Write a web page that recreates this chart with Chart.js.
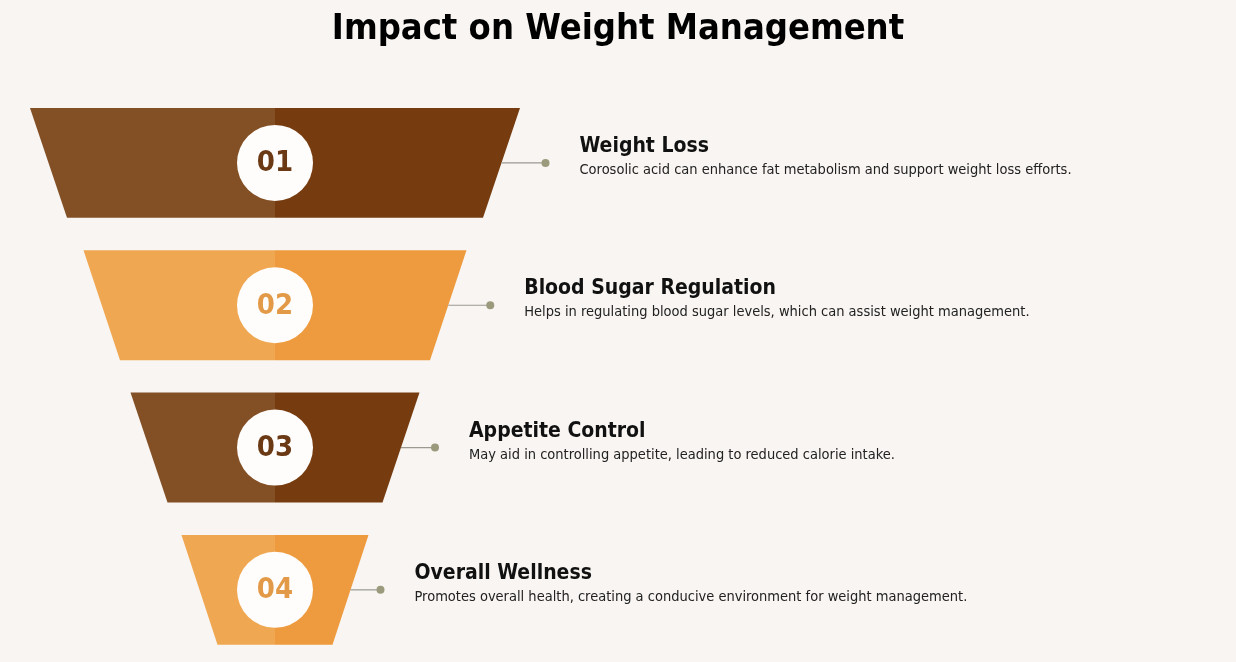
<!DOCTYPE html>
<html>
<head>
<meta charset="utf-8">
<script src="https://cdn.jsdelivr.net/npm/chart.js@4"></script>
<style>
  html, body { margin: 0; padding: 0; background: #f8f5f2; }
  #wrap { width: 1236px; height: 662px; }
</style>
</head>
<body>
<div id="wrap"><canvas id="funnel" width="1236" height="662"></canvas></div>
<script>
const chartTitle = "Impact on Weight Management";
const stepNumbers = ["01", "02", "03", "04"];
const stepTitles = ["Weight Loss", "Blood Sugar Regulation", "Appetite Control", "Overall Wellness"];
const stepTexts = [
  "Corosolic acid can enhance fat metabolism and support weight loss efforts.",
  "Helps in regulating blood sugar levels, which can assist weight management.",
  "May aid in controlling appetite, leading to reduced calorie intake.",
  "Promotes overall health, creating a conducive environment for weight management."
];
const topWidths = [490, 383, 289, 187];
const bottomWidths = [416, 310, 215, 115];

const narrow = "'Liberation Sans Narrow', 'DejaVu Sans Condensed', 'Roboto', sans-serif";
const palette = [
  { left: "#834f25", right: "#763c10", num: "#6b3a15" },
  { left: "#f0a752", right: "#ee9a3e", num: "#e39a48" }
];
const connectorLen = [44, 42, 34, 30];

// draws the funnel steps using the chart scales
const funnelPlugin = {
  id: "funnel",
  beforeDraw(chart) {
    const ctx = chart.ctx;
    ctx.save();
    ctx.fillStyle = "#f8f5f2";
    ctx.fillRect(0, 0, chart.width, chart.height);
    ctx.fillStyle = "#000";
    ctx.font = "bold 36px " + narrow;
    ctx.textAlign = "center";
    ctx.textBaseline = "middle";
    ctx.fillText(chartTitle, chart.width / 2, 30);
    ctx.restore();
  },
  afterDatasetsDraw(chart) {
    const ctx = chart.ctx;
    const xs = chart.scales.x, ys = chart.scales.y;
    ctx.save();
    stepNumbers.forEach((num, i) => {
      const c = palette[i % 2];
      const cx = xs.getPixelForValue(0);
      const top = ys.getPixelForValue(i - 0.386);
      const bot = ys.getPixelForValue(i + 0.386);
      const mid = ys.getPixelForValue(i);
      const tl = xs.getPixelForValue(-topWidths[i] / 2), tr = xs.getPixelForValue(topWidths[i] / 2);
      const bl = xs.getPixelForValue(-bottomWidths[i] / 2), br = xs.getPixelForValue(bottomWidths[i] / 2);
      ctx.fillStyle = c.left;
      ctx.beginPath();
      ctx.moveTo(tl, top); ctx.lineTo(cx, top); ctx.lineTo(cx, bot); ctx.lineTo(bl, bot);
      ctx.closePath(); ctx.fill();
      ctx.fillStyle = c.right;
      ctx.beginPath();
      ctx.moveTo(cx, top); ctx.lineTo(tr, top); ctx.lineTo(br, bot); ctx.lineTo(cx, bot);
      ctx.closePath(); ctx.fill();
      // number badge
      ctx.fillStyle = "#fffdfb";
      ctx.beginPath(); ctx.arc(cx, mid, 38, 0, Math.PI * 2); ctx.fill();
      ctx.fillStyle = c.num;
      ctx.font = "bold 29px " + narrow;
      ctx.textAlign = "center"; ctx.textBaseline = "middle";
      ctx.fillText(num, cx, mid + 1);
      // connector
      const edge = (tr + br) / 2;
      const dot = edge + connectorLen[i];
      ctx.strokeStyle = "#9a9a90"; ctx.lineWidth = 1.2;
      ctx.beginPath(); ctx.moveTo(edge, mid); ctx.lineTo(dot, mid); ctx.stroke();
      ctx.fillStyle = "#9c9a7c";
      ctx.beginPath(); ctx.arc(dot, mid, 4, 0, Math.PI * 2); ctx.fill();
      // texts
      const tx = dot + 34;
      ctx.textAlign = "left"; ctx.textBaseline = "alphabetic";
      ctx.fillStyle = "#111";
      ctx.font = "bold 21px " + narrow;
      ctx.fillText(stepTitles[i], tx, mid - 11);
      ctx.fillStyle = "#222";
      ctx.font = "14.5px " + narrow;
      ctx.fillText(stepTexts[i], tx, mid + 11);
    });
    ctx.restore();
  }
};

new Chart(document.getElementById("funnel").getContext("2d"), {
  type: "scatter",
  data: { datasets: [{ data: [], showLine: false }] },
  options: {
    responsive: false,
    animation: false,
    layout: { padding: 0 },
    plugins: { legend: { display: false }, tooltip: { enabled: false } },
    scales: {
      x: { type: "linear", min: -275, max: 961, display: false },
      y: { type: "linear", min: -1.145, max: 3.507, reverse: true, display: false }
    }
  },
  plugins: [funnelPlugin]
});
</script>
</body>
</html>
